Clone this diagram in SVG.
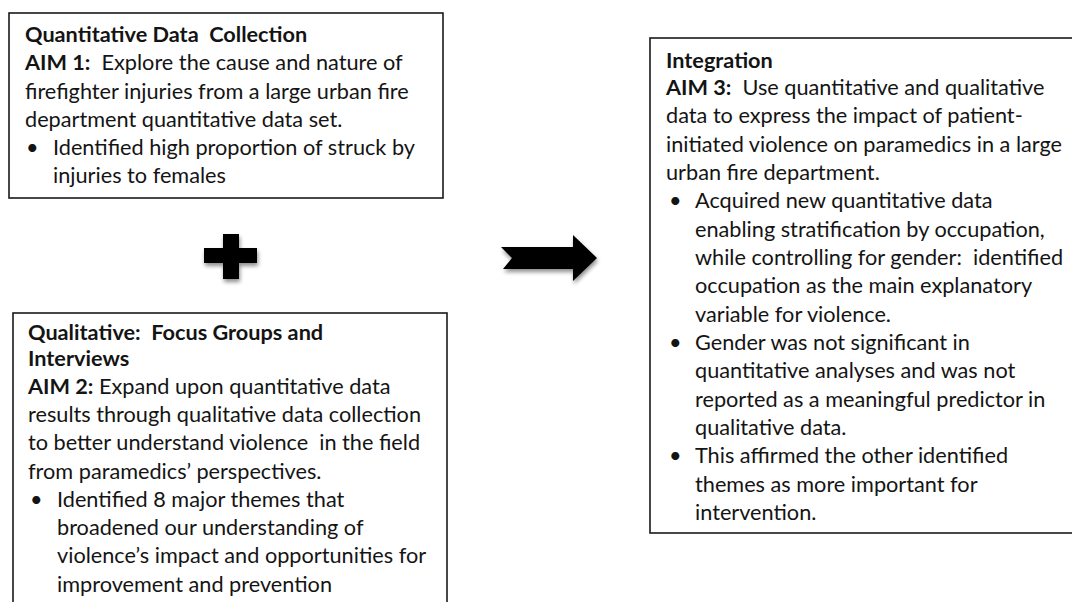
<svg xmlns="http://www.w3.org/2000/svg" width="1072" height="602" viewBox="0 0 1072 602">
<style>
.box{fill:#fff;stroke:#1a1a1a;stroke-width:1.6}
text{font-family:Lato,"Open Sans","Liberation Sans",sans-serif;font-size:21.7px;fill:#141414;white-space:pre}
.b{font-weight:bold}
.sym{fill:#000}
</style>
<defs>
<filter id="sh" x="-30%" y="-30%" width="160%" height="170%">
<feGaussianBlur in="SourceAlpha" stdDeviation="2"/>
<feOffset dx="1" dy="3" result="o"/>
<feComponentTransfer><feFuncA type="linear" slope="0.45"/></feComponentTransfer>
<feMerge><feMergeNode/><feMergeNode in="SourceGraphic"/></feMerge>
</filter>
</defs>
<rect width="1072" height="602" fill="#fff"/>
<g id="connectors">
<path class="sym" filter="url(#sh)" d="M223,234 H239 V248 H257 V263 H239 V279 H223 V263 H204 V248 H223 Z"/>
<polygon class="sym" filter="url(#sh)" points="501,247 573,247 573,235 597,258 573,281 573,269 503,269 512,258"/>
</g>
<g id="node-quantitative">
<rect class="box" x="9" y="13" width="434" height="185"/>
<text x="25" y="42" class="b">Quantitative Data  Collection</text>
<text x="25" y="70"><tspan class="b">AIM 1:</tspan>  Explore the cause and nature of</text>
<text x="25" y="99">firefighter injuries from a large urban fire</text>
<text x="25" y="127">department quantitative data set.</text>
<text x="26" y="155">•</text><text x="53" y="155">Identified high proportion of struck by</text>
<text x="53" y="183">injuries to females</text>
</g>
<g id="node-qualitative">
<rect class="box" x="13" y="313" width="434" height="300"/>
<text x="28" y="340" class="b">Qualitative:  Focus Groups and</text>
<text x="28" y="366" class="b">Interviews</text>
<text x="28" y="394"><tspan class="b">AIM 2:</tspan> Expand upon quantitative data</text>
<text x="28" y="422">results through qualitative data collection</text>
<text x="28" y="450">to better understand violence  in the field</text>
<text x="28" y="479">from paramedics’ perspectives.</text>
<text x="30" y="507">•</text><text x="57" y="507">Identified 8 major themes that</text>
<text x="57" y="535">broadened our understanding of</text>
<text x="57" y="563">violence’s impact and opportunities for</text>
<text x="57" y="592">improvement and prevention</text>
</g>
<g id="node-integration">
<rect class="box" x="650" y="38" width="440" height="495"/>
<text x="666" y="68" class="b">Integration</text>
<text x="666" y="95"><tspan class="b">AIM 3:</tspan>  Use quantitative and qualitative</text>
<text x="666" y="123">data to express the impact of patient-</text>
<text x="666" y="152">initiated violence on paramedics in a large</text>
<text x="666" y="180">urban fire department.</text>
<text x="669" y="208">•</text><text x="695" y="208">Acquired new quantitative data</text>
<text x="695" y="237">enabling stratification by occupation,</text>
<text x="695" y="265">while controlling for gender:  identified</text>
<text x="695" y="293">occupation as the main explanatory</text>
<text x="695" y="322">variable for violence.</text>
<text x="669" y="350">•</text><text x="695" y="350">Gender was not significant in</text>
<text x="695" y="378">quantitative analyses and was not</text>
<text x="695" y="407">reported as a meaningful predictor in</text>
<text x="695" y="435">qualitative data.</text>
<text x="669" y="463">•</text><text x="695" y="463">This affirmed the other identified</text>
<text x="695" y="492">themes as more important for</text>
<text x="695" y="520">intervention.</text>
</g>
</svg>
